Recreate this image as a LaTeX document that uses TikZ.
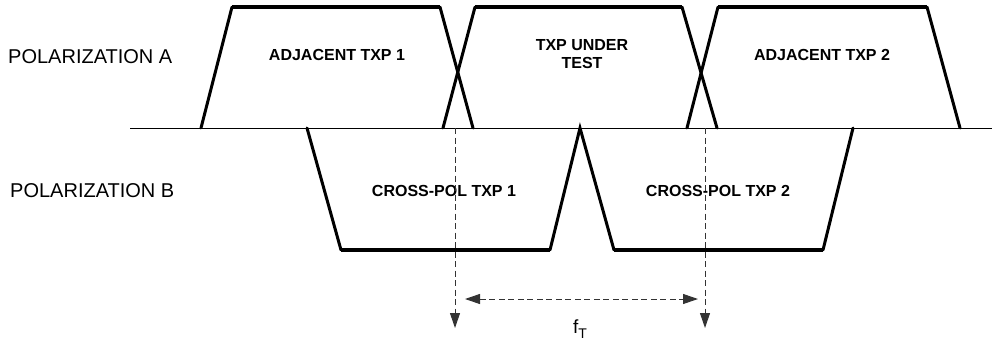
\documentclass[tikz,border=0pt]{standalone}
\usepackage{fontspec}
\setmainfont{Liberation Sans}
\usetikzlibrary{arrows.meta}
\begin{document}
\begin{tikzpicture}[x=1pt,y=-1pt,
  slope/.style={line width=3pt, line cap=round},
  flat/.style={line width=4.2pt},
  axis/.style={line width=1pt},
  guide/.style={line width=1pt, dash pattern=on 6pt off 3.5pt, draw=black!80},
  tip/.style={-{Triangle[length=15pt,width=10pt]}},
  bothtips/.style={{Triangle[length=15pt,width=10pt]}-{Triangle[length=15pt,width=10pt]}},
  polar/.style={font=\fontsize{20}{24}\selectfont, anchor=base west, inner sep=0pt},
  band/.style={font=\fontsize{16}{18}\selectfont\bfseries, anchor=base, inner sep=0pt, align=center}]
\useasboundingbox (0,0) rectangle (992,340);

% frequency axis separating the two polarizations
\draw[axis] (130,128) -- (992,128);

% polarization A: three transponder passbands
\draw[slope] (201,128) -- (232,7);
\draw[flat]  (232,7) -- (440,7);
\draw[slope] (440,7) -- (473,128);

\draw[slope] (443,128) -- (475,7);
\draw[flat]  (475,7) -- (682,7);
\draw[slope] (682,7) -- (717,128);

\draw[slope] (687,128) -- (718,7);
\draw[flat]  (718,7) -- (927,7);
\draw[slope] (927,7) -- (960,128);

% polarization B: two cross-polarized passbands
\draw[slope] (307,128) -- (341,250);
\draw[flat]  (341,250) -- (550,250);
\draw[slope] (550,250) -- (580,128) -- (614,250);
\draw[flat]  (614,250) -- (823,250);
\draw[slope] (823,250) -- (853,128);

% labels
\node[polar] (pa) at (8,63) {POLARIZATION A};
\node[polar] (pb) at (10,197) {POLARIZATION B};
\node[band] (adj1) at (337,60) {ADJACENT TXP 1};
\node[band] (dut)  at (582,68) {TXP UNDER\\TEST};
\node[band] (adj2) at (822,60) {ADJACENT TXP 2};
\node[band] (xp1)  at (444,196) {CROSS-POL TXP 1};
\node[band] (xp2)  at (718,196) {CROSS-POL TXP 2};

% centre-frequency markers and spacing
\coordinate (c1top) at (455,128);
\coordinate (c1bot) at (455,328);
\coordinate (c2top) at (705,128);
\coordinate (c2bot) at (705,328);
\coordinate (sl) at (465,299);
\coordinate (sr) at (698,299);
\draw[guide,tip] (c1top) -- (c1bot);
\draw[guide,tip] (c2top) -- (c2bot);
\draw[guide,bothtips] (sl) -- (sr);
\node[font=\fontsize{19}{22}\selectfont, anchor=base, inner sep=0pt] (ft) at (580,333)
  {f\raisebox{-5pt}{\fontsize{14}{14}\selectfont T}};
\end{tikzpicture}
\end{document}
